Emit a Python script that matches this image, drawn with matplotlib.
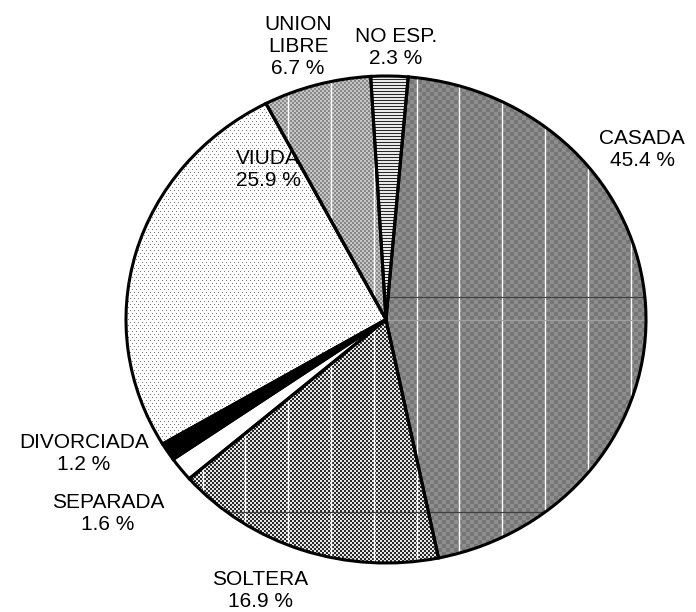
import numpy as np
import matplotlib
matplotlib.use("Agg")
import matplotlib.pyplot as plt

# Estado civil (porcentajes)
categories = ["CASADA", "SOLTERA", "SEPARADA", "DIVORCIADA", "VIUDA", "UNION\nLIBRE", "NO ESP."]
percentages = [45.4, 16.9, 1.6, 1.2, 25.9, 6.7, 2.3]

W, H, DPI = 696, 612, 100
fig = plt.figure(figsize=(W / DPI, H / DPI), dpi=DPI)
fig.patch.set_facecolor("white")
plt.rcParams["font.family"] = ["Liberation Sans", "DejaVu Sans"]

# pie bounding box in pixels
left, right, top, bottom = 126, 646, 76, 563
pw, ph = right - left, bottom - top
ax = fig.add_axes([left / W, 1 - bottom / H, pw / W, ph / H])

wedges, _ = ax.pie(percentages, startangle=85.1, counterclock=False, radius=1,
                   wedgeprops=dict(facecolor="none", edgecolor="black",
                                   linewidth=2.2, zorder=5))
ax.set_aspect("auto")
ax.set_xlim(-1, 1)
ax.set_ylim(-1, 1)
ax.axis("off")

# pixel fill textures
r, c = np.mgrid[0:ph, 0:pw]


def checker(cell, a, b):
    m = ((r // cell + c // cell) % 2) == 0
    return np.where(m, a, b) / 255.0


def dots():
    img = np.full((ph, pw), 255.0)
    m = (r % 3 == 0) & (((c + 2 * ((r // 3) % 2)) % 4) == 0)
    img[m] = 120
    return img / 255.0


def hlines():
    img = np.full((ph, pw), 232.0)
    img[r % 3 == 0] = 40
    return img / 255.0


textures = [
    checker(4, 0x76, 0x8e),          # CASADA
    checker(2, 0x2a, 0xe6),          # SOLTERA
    np.ones((ph, pw)),               # SEPARADA
    np.zeros((ph, pw)),              # DIVORCIADA
    dots(),                          # VIUDA
    checker(2, 0x88, 0xc6),          # UNION LIBRE
    hlines(),                        # NO ESP.
]

for w, tex in zip(wedges, textures):
    im = ax.imshow(tex, cmap="gray", vmin=0, vmax=1, extent=(-1, 1, -1, 1),
                   origin="upper", interpolation="nearest", aspect="auto", zorder=1)
    im.set_clip_path(w)

# grid lines that show through the patterned fills
casada, soltera, union = wedges[0], wedges[1], wedges[5]
for k in range(12):
    x = -1 + 2 * (0.065 + 0.0823 * k)
    for w in (casada, soltera, union):
        ln = ax.axvline(x, color="white", lw=1.0, zorder=2)
        ln.set_clip_path(w)
for yf, col in [(0.546, "#404040"), (0.105, "#404040"), (0.5, "#a0a0a0")]:
    for w in (casada, soltera):
        ln = ax.axhline(-1 + 2 * yf, color=col, lw=0.9, zorder=2)
        ln.set_clip_path(w)

# label block centres in pixels
label_pos = [(642, 149.5), (260, 590.5), (108, 513), (84, 453),
             (268, 169.5), (298, 47), (396, 47.5)]
for name, val, (x, y) in zip(categories, percentages, label_pos):
    fig.text(x / W, 1 - y / H, f"{name}\n{val:.1f} %", ha="center", va="center",
             multialignment="center", fontsize=15, linespacing=1.2, color="black")

fig.savefig("out.png", dpi=DPI, facecolor="white")
